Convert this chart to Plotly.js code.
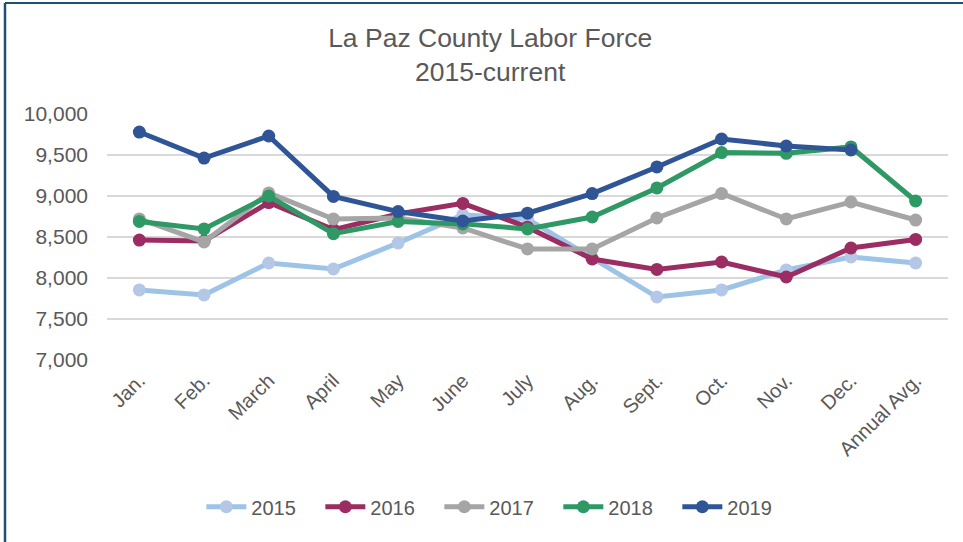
<!DOCTYPE html>
<html>
<head>
<meta charset="utf-8">
<script src="https://cdn.plot.ly/plotly-3.0.1.min.js"></script>
<style>
html,body{margin:0;padding:0;background:#fff;}
#chart{width:963px;height:542px;}
</style>
</head>
<body>
<div id="chart"></div>
<script>
const categories = ["Jan.","Feb.","March","April","May","June","July","Aug.","Sept.","Oct.","Nov.","Dec.","Annual Avg."];
const y2015 = [7854, 7793, 8183, 8110, 8427, 8770, 8720, 8240, 7768, 7854, 8098, 8256, 8183];
const y2016 = [8463, 8451, 8920, 8590, 8780, 8910, 8620, 8232, 8105, 8195, 8012, 8366, 8470];
const y2017 = [8720, 8440, 9037, 8720, 8732, 8610, 8354, 8354, 8732, 9030, 8720, 8927, 8707];
const y2018 = [8690, 8598, 9000, 8540, 8690, 8660, 8598, 8744, 9098, 9530, 9520, 9598, 8939];
const y2019 = [9780, 9463, 9732, 8995, 8810, 8695, 8790, 9030, 9354, 9695, 9610, 9561, null];
const seriesNames = ["2015","2016","2017","2018","2019"];

const styles = [
  {line:"#9DC3E6", marker:"#B4C7E7"},
  {line:"#9B2D62", marker:"#9B2D62"},
  {line:"#A5A5A5", marker:"#A5A5A5"},
  {line:"#2E9965", marker:"#2E9965"},
  {line:"#2F5597", marker:"#2F5597"}
];
const data = [y2015,y2016,y2017,y2018,y2019].map((ys,i)=>({
  type:"scatter", mode:"lines+markers", name:seriesNames[i],
  x:categories, y:ys,
  line:{color:styles[i].line, width:5},
  marker:{color:styles[i].marker, size:13},
  connectgaps:false
}));

const fontFam = '"Liberation Sans", Arial, sans-serif';
const layout = {
  width:963, height:542,
  margin:{l:107, r:15, t:114, b:182},
  paper_bgcolor:"#fff", plot_bgcolor:"#fff",
  font:{family:fontFam, color:"#595959", size:20},
  title:{text:"La Paz County Labor Force<br>2015-current", x:0.509, xref:"container", y:0.914, yref:"container", yanchor:"top",
         font:{family:fontFam, size:26.5, color:"#595959"}},
  xaxis:{type:"category", range:[-0.5,12.5], showgrid:false, zeroline:false, showline:false,
         tickangle:-45, ticks:"", tickfont:{size:20, color:"#595959"}, ticklabelstandoff:4, fixedrange:true},
  yaxis:{range:[7000,10000], tickvals:[7000,7500,8000,8500,9000,9500,10000], tickformat:",d",
         showgrid:true, gridcolor:"#D9D9D9", gridwidth:2, zeroline:false, showline:false, ticks:"",
         ticklabelstandoff:18, tickfont:{size:21, color:"#595959"}, fixedrange:true},
  legend:{orientation:"h", x:0.518, xref:"container", xanchor:"center", y:0.065, yref:"container", yanchor:"middle",
          font:{size:20, color:"#595959"}, itemwidth:40, entrywidth:64, entrywidthmode:"pixels", traceorder:"normal"},
  showlegend:true,
  shapes:[
    {type:"line", xref:"paper", yref:"paper", x0:(5-107)/841, x1:(5-107)/841, y0:-(542-360)/246, y1:(360-3)/246, line:{color:"#1F4E79", width:2.5}},
    {type:"line", xref:"paper", yref:"paper", x0:(5-107)/841, x1:(963-107)/841, y0:(360-3)/246, y1:(360-3)/246, line:{color:"#1F4E79", width:2}}
  ]
};
Plotly.newPlot("chart", data, layout, {displayModeBar:false, staticPlot:true});
</script>
</body>
</html>
